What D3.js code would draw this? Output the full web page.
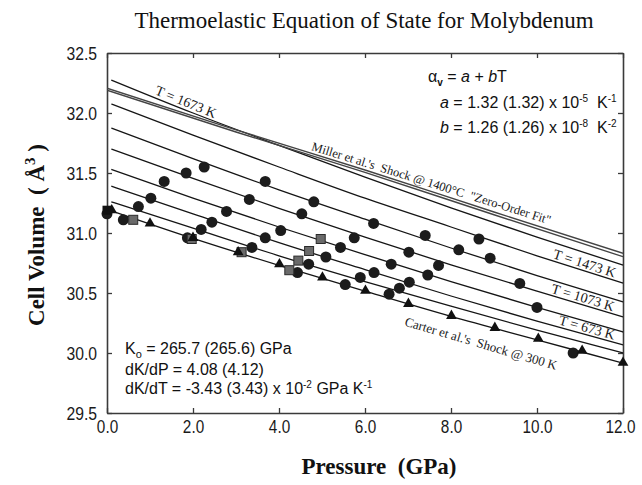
<!DOCTYPE html>
<html><head><meta charset="utf-8">
<script src="https://cdn.jsdelivr.net/npm/d3@7"></script>
<style>body{margin:0;background:#fff}svg text{white-space:pre}</style>
</head><body>
<svg id="c" width="642" height="485"></svg>
<script>
// ---------- data ----------
const pressureGrid = [0.1, 2, 4, 6, 8, 10, 12];
const isothermTemps = [1673, 1473, 1273, 1073, 873, 673, 473, 300];
const iso1673 = [32.275, 32.00, 31.73, 31.465, 31.21, 30.965, 30.733];
const iso1473 = [32.075, 31.815, 31.55, 31.29, 31.05, 30.81, 30.583];
const iso1273 = [31.875, 31.62, 31.36, 31.115, 30.875, 30.645, 30.425];
const iso1073 = [31.70, 31.455, 31.205, 30.965, 30.735, 30.515, 30.30];
const iso873  = [31.53, 31.29, 31.05, 30.82, 30.595, 30.38, 30.175];
const iso673  = [31.39, 31.16, 30.92, 30.695, 30.475, 30.265, 30.067];
const iso473  = [31.26, 31.04, 30.81, 30.595, 30.39, 30.19, 30.00];
const iso300  = [31.185, 30.955, 30.73, 30.515, 30.305, 30.11, 29.915];
const isotherms = [iso1673, iso1473, iso1273, iso1073, iso873, iso673, iso473, iso300];

const millerPressure = [0, 3, 6, 9, 12];
const millerA = [32.206, 31.86, 31.525, 31.175, 30.831];
const millerB = [32.19, 31.842, 31.505, 31.152, 30.803];

const circlePts = [[0.0,31.16],[0.38,31.11],[0.73,31.22],[1.02,31.29],[1.33,31.43],[1.84,31.50],[2.26,31.55],
 [2.78,31.18],[3.31,31.28],[3.68,31.43],[2.44,31.09],[2.19,31.03],[1.87,30.96],[3.37,30.88],[3.68,30.96],
 [4.04,31.02],[4.43,30.67],[4.69,30.74],[5.09,30.80],[4.53,31.16],[4.81,31.26],[5.43,30.88],[5.75,30.96],
 [5.54,30.57],[5.89,30.63],[6.20,31.08],[7.40,30.98],[8.65,30.95],[7.02,30.84],[8.18,30.86],[8.91,30.79],
 [9.60,30.58],[6.61,30.74],[7.71,30.73],[6.21,30.67],[7.46,30.65],[10.0,30.38],[7.03,30.59],[6.80,30.54],
 [6.56,30.49],[10.84,30.00]];
const squarePts = [[0.61,31.11],[1.97,30.95],[3.13,30.84],[4.24,30.69],[4.45,30.77],[4.70,30.85],[4.97,30.95]];
const darkSquarePts = [[0.0,31.19]];
const trianglePts = [[0.11,31.19],[1.0,31.08],[2.0,30.96],[3.05,30.84],[4.01,30.74],[5.01,30.63],[6.01,30.52],
 [7.01,30.41],[8.01,30.31],[9.02,30.21],[10.03,30.12],[11.05,30.02],[12.0,29.92]];

const xTicks = [0, 2, 4, 6, 8, 10, 12];
const yTicks = [29.5, 30, 30.5, 31, 31.5, 32, 32.5];

// ---------- drawing ----------
const svg = d3.select('#c');
const x = d3.scaleLinear().domain([0, 12]).range([107, 623]);
const y = d3.scaleLinear().domain([29.5, 32.5]).range([413, 53]);
const SANS = "'Liberation Sans', Arial, sans-serif";
const SERIF = "'Liberation Serif', 'Times New Roman', serif";

svg.append('defs').append('clipPath').attr('id','clip')
  .append('rect').attr('x',107).attr('y',53).attr('width',516).attr('height',360);

function compress(sel, f) {
  sel.each(function(){ const L = this.getComputedTextLength(); d3.select(this).attr('textLength', L*f).attr('lengthAdjust','spacingAndGlyphs'); });
}

// axes
const fmt = d3.format('.1f');
const gx = svg.append('g').attr('transform','translate(0,413)')
  .call(d3.axisBottom(x).tickValues(xTicks).tickSize(-5).tickSizeOuter(0).tickPadding(7).tickFormat(fmt));
const gy = svg.append('g').attr('transform','translate(107,0)')
  .call(d3.axisLeft(y).tickValues(yTicks).tickSize(-5).tickSizeOuter(0).tickPadding(10).tickFormat(fmt));
svg.append('g').attr('transform','translate(0,53)')
  .call(d3.axisTop(x).tickValues(xTicks).tickSize(-5).tickSizeOuter(0).tickFormat(''));
svg.append('g').attr('transform','translate(623,0)')
  .call(d3.axisRight(y).tickValues(yTicks).tickSize(-5).tickSizeOuter(0).tickFormat(''));
svg.selectAll('.domain').attr('stroke','#3a3a3a').attr('stroke-width',1.6);
svg.selectAll('.tick line').attr('stroke','#3a3a3a').attr('stroke-width',1.3);
gx.selectAll('text').attr('font-family',SANS).attr('font-size',18).attr('fill','#1a1a1a');
gy.selectAll('text').attr('font-family',SANS).attr('font-size',18.5).attr('fill','#1a1a1a');
gy.selectAll('text').attr('dy','0.34em');
compress(gx.selectAll('text'), 0.85);
compress(gy.selectAll('text'), 0.85);
gx.selectAll('.tick').filter(d => d === 12).select('text').attr('x', -3);

// lines
const plot = svg.append('g').attr('clip-path','url(#clip)');
const isoLine = d3.line().x((d,i)=>x(pressureGrid[i])).y(d=>y(d)).curve(d3.curveMonotoneX);
plot.selectAll('path.iso').data(isotherms).join('path').attr('class','iso')
  .attr('d', isoLine).attr('fill','none').attr('stroke','#151515').attr('stroke-width',1.3);
const millerLine = d3.line().x((d,i)=>x(millerPressure[i])).y(d=>y(d)).curve(d3.curveMonotoneX);
plot.selectAll('path.miller').data([millerA, millerB]).join('path').attr('class','miller')
  .attr('d', millerLine).attr('fill','none').attr('stroke','#444').attr('stroke-width',1.4);

// markers
svg.append('g').selectAll('circle').data(circlePts).join('circle')
  .attr('cx',d=>x(d[0])).attr('cy',d=>y(d[1])).attr('r',5.5).attr('fill','#1c1c1c');
svg.append('g').selectAll('rect').data(squarePts).join('rect')
  .attr('x',d=>x(d[0])-4.5).attr('y',d=>y(d[1])-4.5).attr('width',9).attr('height',9)
  .attr('fill','#6a6a6a').attr('stroke','#2a2a2a').attr('stroke-width',1);
svg.append('g').selectAll('rect').data(darkSquarePts).join('rect')
  .attr('x',d=>x(d[0])-4.5).attr('y',d=>y(d[1])-4.5).attr('width',9).attr('height',9).attr('fill','#111');
svg.append('g').selectAll('path').data(trianglePts).join('path')
  .attr('d', d3.symbol(d3.symbolTriangle).size(50)).attr('transform',d=>`translate(${x(d[0])},${y(d[1])})`)
  .attr('fill','#111');

// labels along lines
function lineLabel(txt, grid, vals, p0, offset, size) {
  const f = d3.scaleLinear().domain(grid).range(vals);
  const x0 = x(p0), y0 = y(f(p0)), x1 = x(p0+0.5), y1 = y(f(p0+0.5));
  const ang = Math.atan2(y1-y0, x1-x0)*180/Math.PI;
  svg.append('text').attr('transform',`translate(${x0},${y0}) rotate(${ang})`).attr('y',-offset)
    .attr('font-family',SERIF).attr('font-size',size).attr('fill','#1a1a1a').text(txt);
}
lineLabel('T = 1673 K', pressureGrid, iso1673, 1.07, 3, 14);
lineLabel('Miller et al.\'s  Shock @ 1400\u00B0C  "Zero-Order Fit"', millerPressure, millerA, 4.72, 3, 12.5);
lineLabel('T = 1473 K', pressureGrid, iso1473, 10.34, 2.5, 14);
lineLabel('T = 1073 K', pressureGrid, iso1073, 10.3, 2.5, 14);
lineLabel('T = 673 K', pressureGrid, iso673, 10.47, 2.5, 14);
lineLabel('Carter et al.\'s  Shock @ 300 K', pressureGrid, iso300, 7.05, -22, 13);

// title and axis titles
svg.append('text').attr('x',364).attr('y',28).attr('text-anchor','middle')
  .attr('font-family',SERIF).attr('font-size',23).attr('fill','#111')
  .text('Thermoelastic Equation of State for Molybdenum');
svg.append('text').attr('x',379).attr('y',474).attr('text-anchor','middle')
  .attr('font-family',SERIF).attr('font-size',23).attr('font-weight','bold').attr('fill','#111')
  .text('Pressure  (GPa)');
const yl = svg.append('text').attr('transform','translate(44,235) rotate(-90)').attr('text-anchor','middle')
  .attr('font-family',SERIF).attr('font-size',23).attr('font-weight','bold').attr('fill','#111');
yl.append('tspan').text('Cell Volume  ( \u00C5');
yl.append('tspan').attr('font-size',15).attr('dy',-9).text('3');
yl.append('tspan').attr('dy',9).text(' )');

// annotations
function ann(xp, yp) {
  return svg.append('text').attr('x',xp).attr('y',yp).attr('font-family',SANS).attr('font-size',16).attr('fill','#111');
}
let t = ann(428, 82);
t.append('tspan').text('\u03B1');
t.append('tspan').attr('font-size',10).attr('font-weight','bold').attr('dy',4).text('v');
t.append('tspan').attr('dy',-4).text(' = ');
t.append('tspan').attr('font-style','italic').text('a');
t.append('tspan').text(' + ');
t.append('tspan').attr('font-style','italic').text('b');
t.append('tspan').text('T');

t = ann(440, 108);
t.append('tspan').attr('font-style','italic').text('a');
t.append('tspan').text(' = 1.32 (1.32) x 10');
t.append('tspan').attr('font-size',10).attr('dy',-6).text('-5');
t.append('tspan').attr('dy',6).text('  K');
t.append('tspan').attr('font-size',10).attr('dy',-6).text('-1');

t = ann(440, 133);
t.append('tspan').attr('font-style','italic').text('b');
t.append('tspan').text(' = 1.26 (1.26) x 10');
t.append('tspan').attr('font-size',10).attr('dy',-6).text('-8');
t.append('tspan').attr('dy',6).text('  K');
t.append('tspan').attr('font-size',10).attr('dy',-6).text('-2');

t = ann(125, 354);
t.append('tspan').text('K');
t.append('tspan').attr('font-size',11).attr('dy',4).text('o');
t.append('tspan').attr('dy',-4).text(' = 265.7 (265.6) GPa');

ann(125, 375).text('dK/dP = 4.08 (4.12)');

t = ann(125, 394);
t.append('tspan').text('dK/dT = -3.43 (3.43) x 10');
t.append('tspan').attr('font-size',10).attr('dy',-6).text('-2');
t.append('tspan').attr('dy',6).text(' GPa K');
t.append('tspan').attr('font-size',10).attr('dy',-6).text('-1');
</script>
</body></html>
